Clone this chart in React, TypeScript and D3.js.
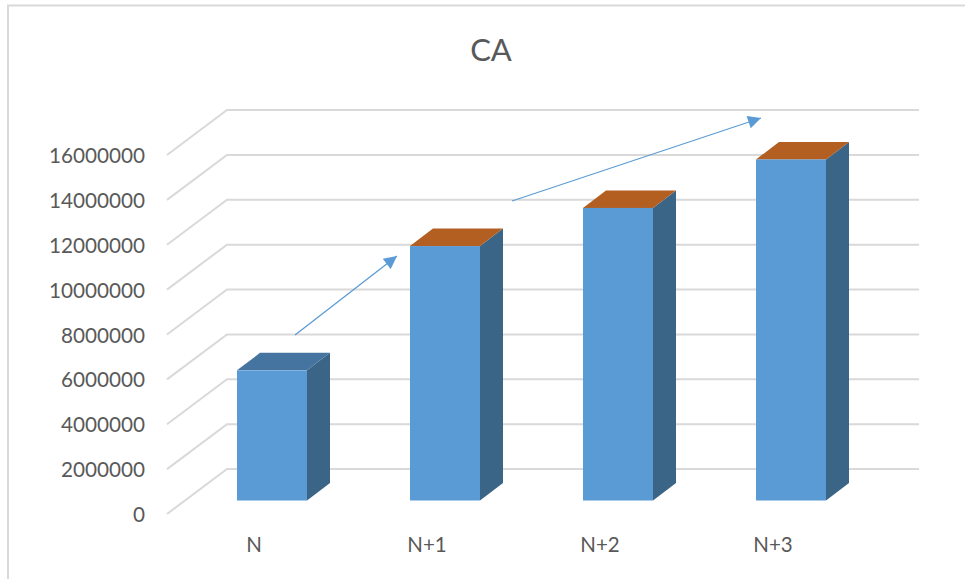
import React from "react";
import * as d3 from "d3";

const title = "CA";
const categories = ["N", "N+1", "N+2", "N+3"];
const values = [5800000, 11340000, 13040000, 15200000];
const yTicks = [0, 2000000, 4000000, 6000000, 8000000, 10000000, 12000000, 14000000, 16000000];
const topColors = ["#44749F", "#B35F22", "#B35F22", "#B35F22"];

const W = 965, H = 579;
const FONT = "Lato, Carlito, Calibri, sans-serif";
const GRID = "#D9D9D9", TEXT = "#595959", BLUE = "#5B9BD5", SIDE = "#3A6587";

export default function App() {
  const y = d3.scaleLinear().domain([0, 16000000]).range([514, 155]);
  const x = d3.scaleBand<string>().domain(categories).range([185.5, 877.5]).paddingInner(0.5954).paddingOuter(0.2977);
  const wall = { dx: 60, dy: -45 }, bar = { dx: 23, dy: -17.5 };
  const baseY = 500.5;
  const gridRight = 919;
  const valueScale = (v: number) => baseY - (y(0) - y(v));
  const line = d3.line();

  return (
    <svg width={W} height={H} viewBox={`0 0 ${W} ${H}`} style={{ position: "fixed", left: 0, top: 0, background: "#fff" }}>
      <defs>
        <marker id="head" viewBox="0 0 10 10" refX="10" refY="5" markerWidth="15" markerHeight="13" markerUnits="userSpaceOnUse" orient="auto">
          <path d="M0,0L10,5L0,10Z" fill={BLUE} />
        </marker>
      </defs>
      <path d={`M8,${H}V5.5H${W}`} fill="none" stroke={GRID} strokeWidth={2} />
      <text x={491} y={61} textAnchor="middle" fontFamily={FONT} fontSize={31} fill={TEXT}>{title}</text>

      {yTicks.map((t) => (
        <g key={t}>
          <path
            d={line([[167, y(t)], [167 + wall.dx, y(t) + wall.dy], [gridRight, y(t) + wall.dy]]) as string}
            fill="none" stroke={GRID} strokeWidth={2}
          />
          <text x={145} y={y(t) + 8} textAnchor="end" fontFamily={FONT} fontSize={20.7} fill={TEXT}>{t}</text>
        </g>
      ))}

      {categories.map((c, i) => {
        const x0 = x(c) as number, x1 = x0 + x.bandwidth();
        const top = valueScale(values[i]);
        const { dx, dy } = bar;
        return (
          <g key={c}>
            <path d={line([[x1, baseY], [x1 + dx, baseY + dy], [x1 + dx, top + dy], [x1, top]]) as string} fill={SIDE} />
            <path d={line([[x0, top], [x0 + dx, top + dy], [x1 + dx, top + dy], [x1, top]]) as string} fill={topColors[i]} />
            <rect x={x0} y={top} width={x.bandwidth()} height={baseY - top} fill={BLUE} />
            <text x={x0 + 17} y={552} textAnchor="middle" fontFamily={FONT} fontSize={20.5} fill={TEXT}>{c}</text>
          </g>
        );
      })}

      <line x1={295} y1={335} x2={397} y2={256} stroke={BLUE} strokeWidth={1.3} markerEnd="url(#head)" />
      <line x1={512} y1={201} x2={761} y2={118} stroke={BLUE} strokeWidth={1.3} markerEnd="url(#head)" />
    </svg>
  );
}
